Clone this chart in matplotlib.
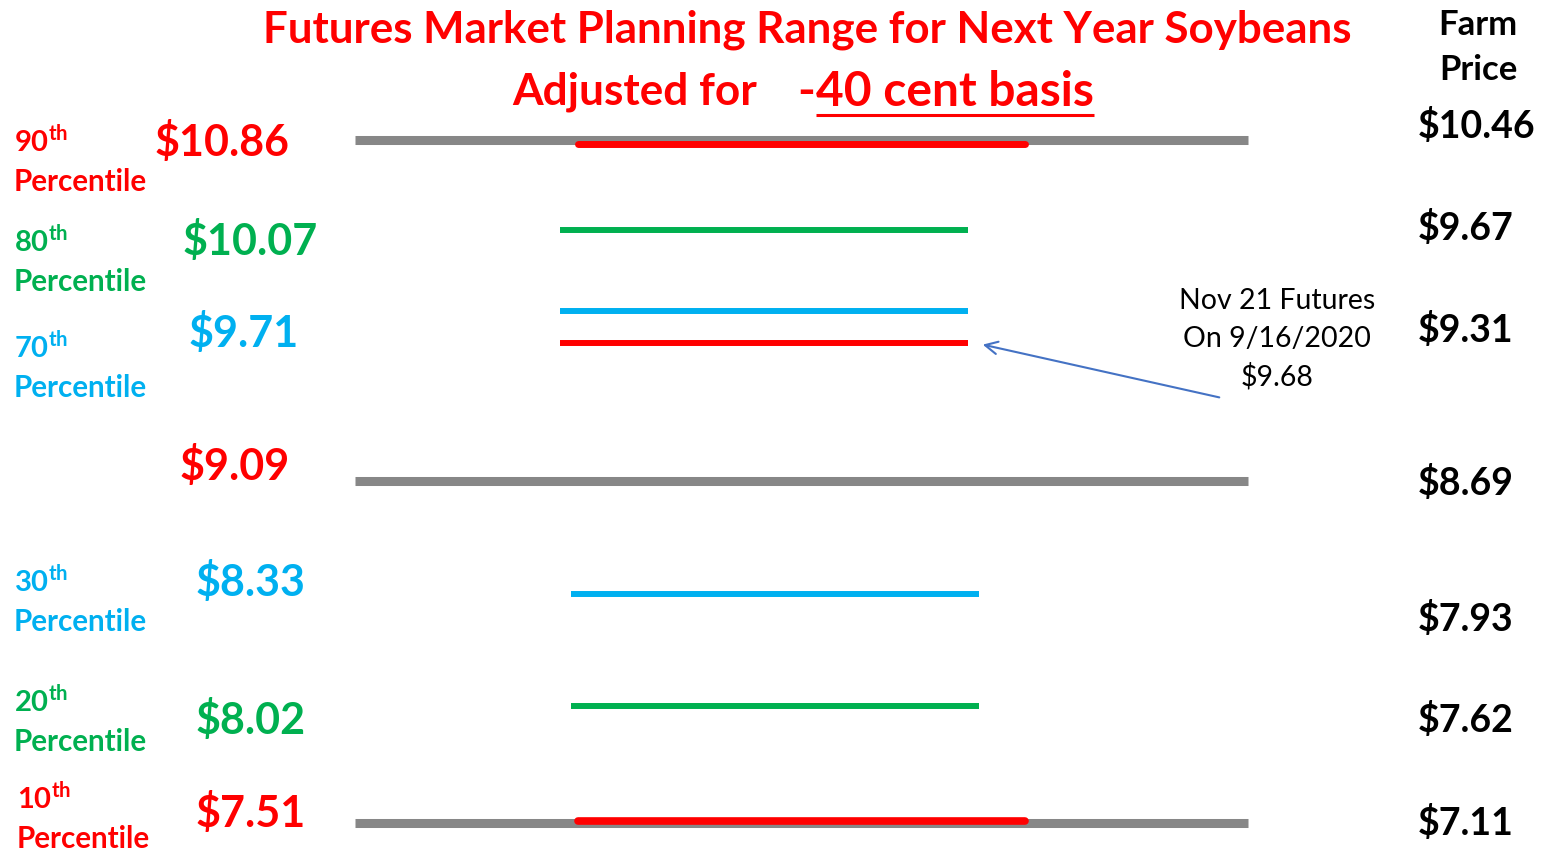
import numpy as np
import matplotlib.pyplot as plt

plt.rcParams['font.family'] = ['Lato', 'DejaVu Sans']
plt.rcParams['mathtext.fontset'] = 'custom'
plt.rcParams['mathtext.rm'] = 'Lato'
plt.rcParams['mathtext.bf'] = 'Lato:bold'

# Planning range data (futures price by percentile, basis adjusted farm price)
percentiles = ['90', '80', '70', '', '30', '20', '10']
futures = [10.86, 10.07, 9.71, 9.09, 8.33, 8.02, 7.51]
basis = -0.40
farm_price = [round(f + basis, 2) for f in futures]
nov_futures = 9.68
quote_date = '9/16/2020'

RED = '#FF0000'
GREEN = '#00B050'
BLUE = '#00B0F0'
GRAY = '#878787'
row_colors = [RED, GREEN, BLUE, RED, BLUE, GREEN, RED]

# slide layout (pixels from top-left)
row_y = [140, 230, 311, 481, 594, 706, 823]
price_y = [142, 241, 333, 466, 582, 720, 813]
price_x = [155, 183, 189, 180, 196, 196, 196]
pct_y = [140, 240, 346, None, 580, 700, 797]
pct_x = [14, 14, 14, None, 14, 14, 17]
farm_y = [126, 228, 330, 483, 619, 720, 823]
gray_rows = [0, 3, 6]
span_short = {1: (560, 968), 2: (560, 968), 4: (571, 979), 5: (571, 979)}

W, H = 1547, 850
fig = plt.figure(figsize=(W / 100, H / 100), dpi=100)
ax = fig.add_axes([0, 0, 1, 1])
ax.set_xlim(0, W)
ax.set_ylim(H, 0)
ax.axis('off')

# gray full-range rails
for i in gray_rows:
    ax.hlines(row_y[i], 355, 1248, color=GRAY, lw=6.5, zorder=1)

# thick red bars on the 90th and 10th rails
ax.plot([578, 1025], [row_y[0] + 3.5, row_y[0] + 3.5], color=RED, lw=5.0,
        solid_capstyle='round', zorder=2)
ax.plot([578, 1025], [row_y[6] - 2, row_y[6] - 2], color=RED, lw=5.5,
        solid_capstyle='round', zorder=2)

# percentile bars
for i, (x0, x1) in span_short.items():
    ax.hlines(row_y[i], x0, x1, color=row_colors[i], lw=4.3, zorder=2)

# current Nov futures
fut_y = 343
ax.hlines(fut_y, 560, 968, color=RED, lw=4.3, zorder=2)

# futures price labels
for i, p in enumerate(futures):
    ax.text(price_x[i], price_y[i], f'${p:.2f}', color=row_colors[i],
            fontsize=31, fontweight='bold', ha='left', va='center')

# percentile labels
for i, p in enumerate(percentiles):
    if not p:
        continue
    ax.text(pct_x[i], pct_y[i], p + r'$^{\mathbf{th}}$', color=row_colors[i],
            fontsize=21, fontweight='bold', ha='left', va='center')
    ax.text(pct_x[i], pct_y[i] + 42, 'Percentile', color=row_colors[i],
            fontsize=21.3, fontweight='bold', ha='left', va='center')

# farm price column
ax.text(1478, 25, 'Farm', fontsize=25, fontweight='bold', ha='center', va='center')
ax.text(1478, 70, 'Price', fontsize=25, fontweight='bold', ha='center', va='center')
for i, p in enumerate(farm_price):
    ax.text(1418, farm_y[i], f'${p:.2f}', color='black', fontsize=27,
            fontweight='bold', ha='left', va='center')

# title
ax.text(807, 30, 'Futures Market Planning Range for Next Year Soybeans',
        color=RED, fontsize=31.6, fontweight='bold', ha='center', va='center')
ax.text(757, 92, 'Adjusted for', color=RED, fontsize=31.8, fontweight='bold',
        ha='right', va='center')
ax.text(815, 92, '-', color=RED, fontsize=34.5, fontweight='bold',
        ha='right', va='center')
basis_txt = ax.text(816, 92, f'{abs(basis) * 100:.0f} cent basis', color=RED,
                    fontsize=34.5, fontweight='bold', ha='left', va='center')

# underline under the basis text
fig.canvas.draw()
bb = basis_txt.get_window_extent().transformed(ax.transData.inverted())
ax.plot([bb.x0, bb.x1], [115, 115], color=RED, lw=2.2, solid_capstyle='butt')

# futures annotation
note = ['Nov 21 Futures', f'On {quote_date}', f'${nov_futures:.2f}']
for k, line in enumerate(note):
    ax.text(1277, 301 + 38 * k, line, fontsize=20.5, ha='center', va='center')
ax.annotate('', xy=(980, fut_y + 1), xytext=(1222, 398),
            arrowprops=dict(arrowstyle='->,head_length=0.9,head_width=0.45',
                            color='#4472C4', lw=1.5))

fig.savefig('out.png', dpi=100)
